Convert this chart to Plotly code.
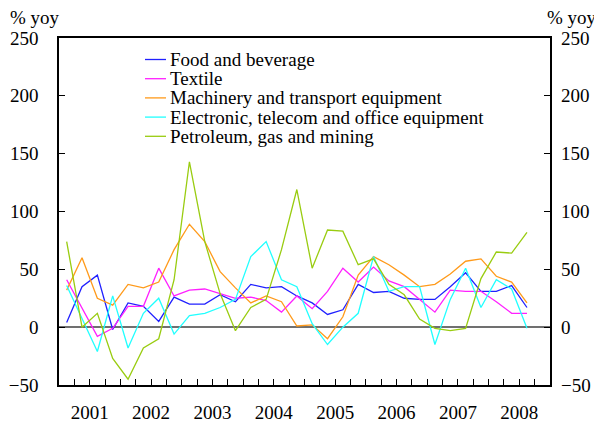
import plotly.graph_objects as go

# quarterly % yoy, 2001Q1 .. 2008Q3
years = ["2001", "2002", "2003", "2004", "2005", "2006", "2007", "2008"]

food = [4, 35, 45, -2, 21, 18, 5, 26, 20, 20, 28, 22, 37, 34, 35, 27,
        21, 11, 15, 37, 30, 31, 25, 24, 24, 35, 47, 31, 31, 36, 17]
textile = [41, 17, -8, -1, 18, 18, 51, 27, 32, 33, 29, 25, 26, 23, 13, 27,
           16, 31, 51, 39, 52, 40, 35, 24, 13, 32, 31, 31, 22, 12, 12]
machinery = [32, 60, 25, 19, 37, 34, 39, 67, 89, 74, 48, 34, 21, 27, 22, 1,
             2, -10, 9, 45, 61, 54, 45, 35, 37, 46, 57, 59, 44, 39, 21]
electronic = [36, 8, -21, 27, -18, 12, 25, -6, 10, 12, 17, 24, 61, 74, 41, 35,
              3, -15, 0, 12, 61, 31, 35, 35, -15, 24, 51, 17, 41, 33, -1]
petroleum = [74, 0, 12, -27, -45, -18, -10, 41, 143, 74, 29, -3, 17, 24, 67, 119,
             51, 84, 83, 54, 59, 37, 28, 7, -1, -3, -1, 42, 65, 64, 82]

names = ["Food and beverage", "Textile", "Machinery and transport equipment",
         "Electronic, telecom and office equipment", "Petroleum, gas and mining"]
series = [food, textile, machinery, electronic, petroleum]
colors = ["#2020ff", "#ff20ff", "#ff9a1a", "#20ffff", "#99cc10"]

quarters = list(range(len(food)))

fig = go.Figure()
for name, vals, col in zip(names, series, colors):
    fig.add_trace(go.Scatter(x=quarters, y=vals, mode="lines", name=name,
                             line=dict(color=col, width=1.3), showlegend=False))

# empty trace so the right-hand axis gets drawn
fig.add_trace(go.Scatter(x=[], y=[], yaxis="y2", showlegend=False, hoverinfo="skip"))

# tick marks between quarters, year label at the middle of each year
tick_pos = [q + 0.5 for q in range(len(years) * 4 - 1)]
tick_txt = []
for p in tick_pos:
    if (p - 1.5) % 4 == 0:
        tick_txt.append(years[int((p - 1.5) // 4)])
    else:
        tick_txt.append("")

font = dict(family="Liberation Serif", size=19, color="black")

# page body has an 8px margin, so the figure is a bit smaller than the window
fig.update_layout(
    width=594, height=417,
    margin=dict(l=51, r=52, t=30, b=40, autoexpand=False),
    paper_bgcolor="white", plot_bgcolor="white",
    font=font,
    showlegend=False,
    xaxis=dict(range=[-0.5, len(years) * 4 - 0.5], tickmode="array",
               tickvals=tick_pos, ticktext=tick_txt, ticks="inside", ticklen=6,
               tickwidth=1, tickcolor="black", showline=True, linecolor="black",
               linewidth=1.5, mirror=True, showgrid=False, zeroline=False,
               ticklabelstandoff=9),
    yaxis=dict(range=[-50, 250], dtick=50, ticks="inside", ticklen=6, tickwidth=1,
               tickcolor="black", showline=True, linecolor="black", linewidth=1.5,
               mirror=True, showgrid=False, zeroline=True, zerolinecolor="#707070",
               zerolinewidth=2, ticklabelstandoff=15),
    yaxis2=dict(range=[-50, 250], dtick=50, overlaying="y", side="right",
                ticks="inside", ticklen=6, tickwidth=1, tickcolor="black",
                showline=False, showgrid=False, zeroline=False, ticklabelstandoff=10),
)

# "% yoy" unit labels
fig.add_annotation(text="% yoy", xref="paper", yref="paper", x=0.006, y=1.06,
                   xanchor="right", yanchor="middle", showarrow=False, font=font)
fig.add_annotation(text="% yoy", xref="paper", yref="paper", x=0.99, y=1.06,
                   xanchor="left", yanchor="middle", showarrow=False, font=font)

# legend drawn by hand to get the tight line spacing (positions in window pixels)
px_l, px_r, px_t, px_b = 59, 550, 38, 385
def px_x(v):
    return (v - px_l) / (px_r - px_l)
def px_y(v):
    return (px_b - v) / (px_b - px_t)

for i, (name, col) in enumerate(zip(names, colors)):
    yy = 59.5 + 19.2 * i
    fig.add_shape(type="line", xref="paper", yref="paper",
                  x0=px_x(145), x1=px_x(166), y0=px_y(yy), y1=px_y(yy),
                  line=dict(color=col, width=1.3))
    fig.add_annotation(text=name, xref="paper", yref="paper", x=px_x(168), y=px_y(yy),
                       xanchor="left", yanchor="middle", showarrow=False, font=font)

fig.write_html("out.html")
